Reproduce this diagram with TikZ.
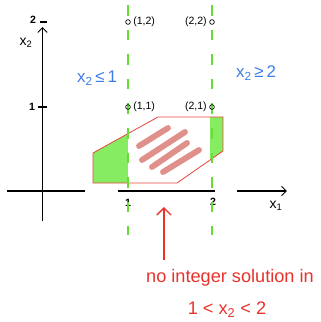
\documentclass[tikz,border=0pt]{standalone}
\usepackage{fontspec}
\setmainfont{Liberation Sans}
\usepackage{xcolor}
\usetikzlibrary{arrows.meta,positioning,calc}

\definecolor{cutgreen}{HTML}{66DD33}
\definecolor{fillgreen}{HTML}{86EC62}
\definecolor{edgered}{HTML}{E8453C}
\definecolor{hatchred}{HTML}{E0908A}
\definecolor{notered}{HTML}{E8322A}
\definecolor{boundblue}{HTML}{3D7DE8}

\begin{document}
\begin{tikzpicture}[
  x=0.03cm, y=0.03cm,
  axis/.style={line width=0.9pt, black},
  cutline/.style={cutgreen, line width=1.3pt, dash pattern=on 9pt off 12pt},
  lattice/.style={circle, draw, line width=0.6pt, inner sep=0pt, minimum size=4pt},
  ptlabel/.style={font=\small, inner sep=1pt},
  numlabel/.style={font=\small\bfseries, inner sep=1pt},
  axlabel/.style={font=\large, inner sep=1pt},
  bound/.style={boundblue, font=\Large, inner sep=1pt},
  hatch/.style={hatchred, line width=5pt, line cap=round},
  note/.style={notered, font=\fontsize{15.5}{18}\selectfont, inner sep=0pt}
]
\useasboundingbox (0,0) rectangle (321,322);

% relaxed region and the two branches
\coordinate (p1) at (93,169);
\coordinate (p2) at (158,205);
\coordinate (p3) at (223,205);
\coordinate (p4) at (223,171);
\coordinate (p5) at (177,139);
\coordinate (p6) at (93,139);
\begin{scope}
  \clip (p1) -- (p2) -- (p3) -- (p4) -- (p5) -- (p6) -- cycle;
  \fill[fillgreen] (93,130) rectangle (128,210);
  \fill[fillgreen] (210,130) rectangle (223,210);
\end{scope}
\draw[edgered, line width=0.7pt] (p1) -- (p2) -- (p3) -- (p4) -- (p5) -- (p6) -- cycle;

\draw[hatch] (139,176) -- (168,194);
\draw[hatch] (142,162) -- (185,190);
\draw[hatch] (152,155) -- (187,179);
\draw[hatch] (163,150) -- (199,172);

% axes
\coordinate (ybot) at (42.5,101);
\coordinate (ytop) at (42.5,295);
\draw[axis, -{Straight Barb[length=4pt]}] (ybot) -- (ytop);
\draw[axis] (7,131) -- (85,131);
\draw[axis] (118,131) -- (215,131);
\coordinate (xfrom) at (237,131);
\coordinate (xto) at (287,131);
\draw[axis, -{Straight Barb[length=4pt]}] (xfrom) -- (xto);
\draw[axis] (38,215) -- (47,215);
\draw[axis] (40,300) -- (47,300);
\node[numlabel] (ytick1) at (32,215) {1};
\node[numlabel] (ytick2) at (33,302) {2};
\node[axlabel] (ylab) at (26,279) {x\textsubscript{2}};
\node[numlabel] (xtick1) at (128,119) {1};
\node[numlabel] (xtick2) at (213,120) {2};
\node[axlabel] (xlab) at (276,116) {x\textsubscript{1}};

% branching cuts
\draw[cutline] (128,317) -- (128,87);
\draw[cutline] (212,317) -- (212,87);

% integer points
\node[lattice] (q12) at (128,300) {};
\node[lattice] (q11) at (128,215) {};
\node[lattice] (q22) at (212,300) {};
\node[lattice] (q21) at (212,215) {};
\node[ptlabel, right=1pt of q12] {(1,2)};
\node[ptlabel, right=1pt of q11] {(1,1)};
\node[ptlabel, left=1pt of q22] {(2,2)};
\node[ptlabel, left=1pt of q21] {(2,1)};

\node[bound] (left) at (97,244) {x\textsubscript{2}\,≤\,1};
\node[bound] (right) at (256,249) {x\textsubscript{2}\,≥\,2};

% remark
\node[note] (msg) at (230,44) {no integer solution in};
\node[note] (range) at (227,12) {1 < x\textsubscript{2} < 2};
\coordinate (foot) at (164,62);
\coordinate (gap) at (164,115);
\draw[notered, line width=1.2pt, -{Straight Barb[length=6pt]}] (foot) -- (gap);
\end{tikzpicture}
\end{document}
